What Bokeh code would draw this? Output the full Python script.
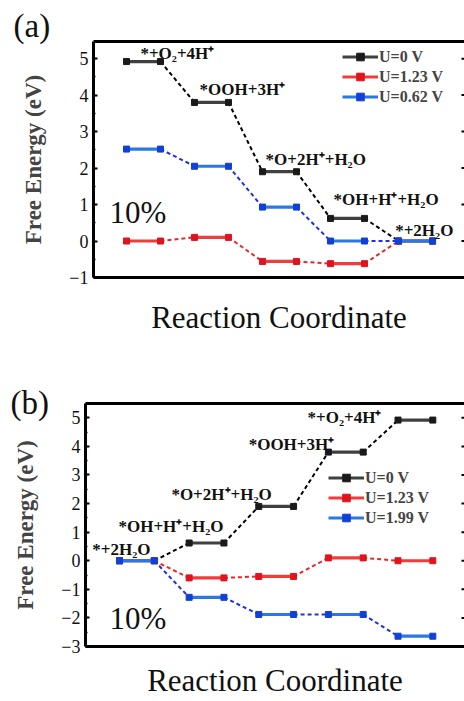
from bokeh.plotting import figure
from bokeh.models import (Range1d, Label, Title, LinearAxis, SingleIntervalTicker,
                          Legend, LegendItem, ColumnDataSource)
from bokeh.embed import file_html
from bokeh.resources import INLINE

# ---------------- data: panel (a) ----------------
steps_a = [0, 1, 2, 3, 4]
a_u0 = [4.92, 3.80, 1.90, 0.62, 0.00]
a_u123 = [0.00, 0.10, -0.56, -0.62, 0.00]
a_u062 = [2.52, 2.05, 0.93, 0.00, 0.00]
a_names = ["U=0 V", "U=1.23 V", "U=0.62 V"]
a_species = ["*+O\u2082+4H\u207a", "*OOH+3H\u207a", "*O+2H\u207a+H\u2082O",
             "*OH+H\u207a+H\u2082O", "*+2H\u2082O"]
a_yticks = [-1, 0, 1, 2, 3, 4, 5]

# ---------------- data: panel (b) ----------------
steps_b = [0, 1, 2, 3, 4]
b_u0 = [0.00, 0.62, 1.90, 3.80, 4.92]
b_u123 = [0.00, -0.60, -0.55, 0.10, 0.00]
b_u199 = [0.00, -1.28, -1.88, -1.88, -2.64]
b_names = ["U=0 V", "U=1.23 V", "U=1.99 V"]
b_species = ["*+2H\u2082O", "*OH+H\u207a+H\u2082O", "*O+2H\u207a+H\u2082O",
             "*OOH+3H\u207a", "*+O\u2082+4H\u207a"]
b_yticks = [-3, -2, -1, 0, 1, 2, 3, 4, 5]

# label placement (data coords)
a_lab_x = [0.41, 2.15, 4.09, 6.09, 7.90]
a_lab_y = [5.14, 4.15, 2.23, 1.14, 0.29]
b_lab_x = [-0.78, -0.03, 1.49, 3.71, 5.40]
b_lab_y = [0.40, 1.19, 2.33, 4.07, 5.00]

SERIF = "Liberation Serif"
LEVEL_COLORS = ["#404040", "#f23c3c", "#2a78e4"]
MARK_COLORS = ["#1a1a1a", "#e0141e", "#1040d8"]
DASH_COLORS = ["#000000", "#e82828", "#2030e0"]


def panel(tag, steps, series, names, species, lab_x, lab_y, yticks, xr, yr, height,
          b_left, b_top, b_bottom, leg_loc, pct_xy, tag_offset, tag_standoff,
          xlabel_bounds, xlabel_standoff):
    p = figure(width=464, height=height, x_range=Range1d(*xr), y_range=Range1d(*yr),
               output_backend="svg", toolbar_location=None, x_axis_location=None,
               min_border_left=b_left, min_border_right=0, min_border_top=b_top,
               min_border_bottom=b_bottom)
    p.outline_line_color = None
    p.xgrid.visible = False
    p.ygrid.visible = False

    # axes
    yax = p.yaxis[0]
    yax.ticker = SingleIntervalTicker(interval=1, num_minor_ticks=2)
    yax.axis_line_width = 3
    yax.axis_line_color = "black"
    yax.major_tick_in = 4
    yax.major_tick_out = 0
    yax.major_tick_line_width = 2
    yax.minor_tick_in = 2
    yax.minor_tick_out = 0
    yax.minor_tick_line_width = 1.5
    yax.major_label_text_font = SERIF
    yax.major_label_text_font_size = "18px"
    yax.major_label_text_color = "#111111"
    yax.major_label_standoff = 5
    yax.axis_label = "Free Energy (eV)"
    yax.axis_label_text_font = SERIF
    yax.axis_label_text_font_style = "bold"
    yax.axis_label_text_font_size = "23px"
    yax.axis_label_standoff = 20

    for loc in ("below", "above"):
        ax = LinearAxis(ticker=[], axis_line_width=3, axis_line_color="black",
                        major_tick_line_color=None, minor_tick_line_color=None)
        p.add_layout(ax, loc)

    # x-axis title (bounded axis so that the label can sit off-centre like the original)
    lab_ax = LinearAxis(ticker=[], bounds=xlabel_bounds, axis_line_color=None,
                        major_tick_line_color=None, minor_tick_line_color=None,
                        axis_label="Reaction Coordinate", axis_label_text_font=SERIF,
                        axis_label_text_font_size="31px", axis_label_text_font_style="normal",
                        axis_label_text_color="#111111",
                        axis_label_standoff=xlabel_standoff)
    p.add_layout(lab_ax, "below")

    # inward tick marks of the (cropped) right frame edge
    p.scatter(x=[xr[1]] * len(yticks), y=yticks, marker="dash", size=6,
              line_width=2, line_color="black")

    p.add_layout(Title(text=tag, align="left", offset=tag_offset,
                       text_font=SERIF, text_font_size="33px", text_font_style="normal",
                       text_color="#111111", standoff=tag_standoff), "above")

    x0 = [2 * s for s in steps]
    x1 = [2 * s + 1 for s in steps]
    items = []
    for i, (vals, name) in enumerate(zip(series, names)):
        src = ColumnDataSource(dict(x0=x0, x1=x1, y=vals))
        csrc = ColumnDataSource(dict(x0=x1[:-1], x1=x0[1:], y0=vals[:-1], y1=vals[1:]))
        p.segment(x0="x0", y0="y0", x1="x1", y1="y1", source=csrc,
                  line_color=DASH_COLORS[i], line_width=2, line_dash="4 3")
        seg = p.segment(x0="x0", y0="y", x1="x1", y1="y", source=src,
                        line_color=LEVEL_COLORS[i], line_width=3.2)
        m1 = p.scatter(x="x0", y="y", source=src, marker="square", size=6,
                       fill_color=MARK_COLORS[i], line_color=MARK_COLORS[i])
        p.scatter(x="x1", y="y", source=src, marker="square", size=6,
                  fill_color=MARK_COLORS[i], line_color=MARK_COLORS[i])
        items.append(LegendItem(label=name, renderers=[seg, m1]))

    leg = Legend(items=items, location=leg_loc, label_text_font=SERIF,
                 label_text_font_style="bold", label_text_font_size="16px",
                 glyph_width=36, glyph_height=19, label_height=19, label_standoff=1,
                 spacing=1, padding=0, margin=0, border_line_color=None,
                 background_fill_alpha=0)
    p.add_layout(leg)

    for sx, sy, st in zip(lab_x, lab_y, species):
        p.add_layout(Label(x=sx, y=sy, text=st, text_font=SERIF, text_font_style="bold",
                           text_font_size="17px", text_baseline="middle",
                           text_color="#111111"))

    p.add_layout(Label(x=pct_xy[0], y=pct_xy[1], text="10%", text_font=SERIF,
                       text_font_size="31px", text_baseline="middle",
                       text_color="#111111"))
    return p


pa = panel("(a)", steps_a, [a_u0, a_u123, a_u062], a_names, a_species, a_lab_x, a_lab_y,
           a_yticks, xr=(-0.97, 9.94), yr=(-1, 5.47), height=345, b_left=93, b_top=41,
           b_bottom=68, leg_loc=(249, 171), pct_xy=(-0.5, 0.79), tag_offset=-80,
           tag_standoff=-5, xlabel_bounds=(-0.97, 9.76), xlabel_standoff=22)
pb = panel("(b)", steps_b, [b_u0, b_u123, b_u199], b_names, b_species, b_lab_x, b_lab_y,
           b_yticks, xr=(-0.977, 9.91), yr=(-3, 5.5), height=356, b_left=85, b_top=58,
           b_bottom=55, leg_loc=(243, 119), pct_xy=(-0.29, -2.01), tag_offset=-75,
           tag_standoff=-34, xlabel_bounds=(0.46, 9.91), xlabel_standoff=16)

open("out.html", "w").write(file_html([pa, pb], INLINE))
